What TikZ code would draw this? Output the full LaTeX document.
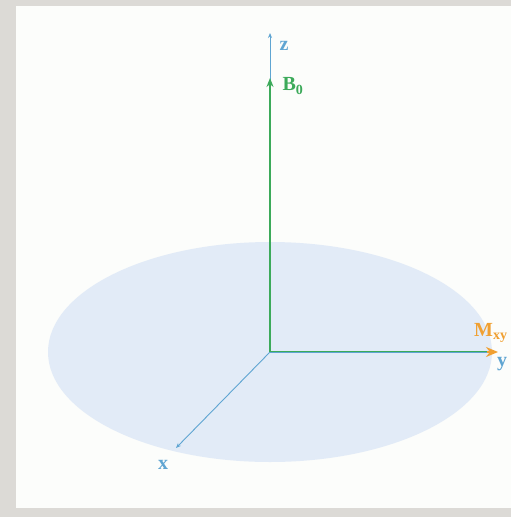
\documentclass[tikz,border=0pt]{standalone}
\usepackage{fontspec}
\setmainfont{Liberation Serif}
\usetikzlibrary{arrows.meta}
\definecolor{bggray}{RGB}{220,218,214}
\definecolor{panel}{RGB}{252,253,251}
\definecolor{disk}{RGB}{226,235,247}
\definecolor{axblue}{RGB}{95,165,210}
\definecolor{bgreen}{RGB}{60,170,90}
\definecolor{morange}{RGB}{240,160,50}
\begin{document}
\begin{tikzpicture}[x=1pt,y=-1pt,
  axis/.style={draw=axblue,line width=0.9pt,-{Stealth[length=5pt,width=4pt]}},
  vecB/.style={draw=bgreen,line width=1.8pt,-{Stealth[length=9pt,width=7pt]}},
  vecM/.style={draw=morange,line width=1.8pt,-{Stealth[length=12pt,width=10pt]}},
  lab/.style={inner sep=0pt,font=\fontsize{20}{20}\selectfont\bfseries}]
\fill[bggray] (0,0) rectangle (511,517);
\useasboundingbox (0,0) rectangle (511,517);
\fill[panel] (16,6) rectangle (511,508);
\fill[disk] (270,352) ellipse [x radius=222, y radius=110];
\coordinate (O) at (270,352);
\coordinate (zend) at (270,33);
\coordinate (xend) at (176,448);
\coordinate (bend) at (270,78);
\coordinate (mend) at (498,352);
\coordinate (yend) at (487,352);
\draw[vecM] (O) -- (mend);
\draw[draw=bgreen,line width=1.8pt] (O) -- (yend);
\draw[axis] (O) -- (xend);
\draw[axis] (O) -- (zend);
\draw[vecB] (O) -- (bend);
\draw[draw=axblue,line width=0.6pt] (O) -- (yend);
\node[lab,text=axblue] (zl) at (284,46) {z};
\node[lab,text=bgreen] (bl) at (293,86) {B\textsubscript{0}};
\node[lab,text=axblue] (yl) at (502,364) {y};
\node[lab,text=morange,anchor=west] (ml) at (474,333) {M\textsubscript{xy}};
\node[lab,text=axblue] (xl) at (163,465) {x};
\end{tikzpicture}
\end{document}
